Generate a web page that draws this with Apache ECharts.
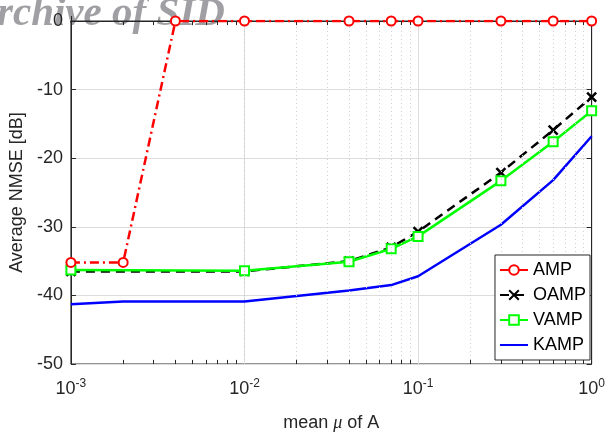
<!DOCTYPE html>
<html>
<head>
<meta charset="utf-8">
<script src="https://cdn.jsdelivr.net/npm/echarts@6/dist/echarts.min.js"></script>
<style>
  html, body { margin: 0; padding: 0; background: #fff; }
  #chart { width: 608px; height: 437px; }
</style>
</head>
<body>
<div id="chart"></div>
<script>
// x positions (mean mu of A)
const ampMu = [0.001, 0.002, 0.004, 0.01, 0.04, 0.07, 0.1, 0.3, 0.6, 1]
const ampNmse = [-35.2, -35.2, 0, 0, 0, 0, 0, 0, 0, 0]

const mu = [0.001, 0.01, 0.04, 0.07, 0.1, 0.3, 0.6, 1]
const oampNmse = [-36.5, -36.5, -35.0, -33.0, -30.7, -22.1, -15.9, -11.1]
const vampNmse = [-36.3, -36.4, -35.1, -33.2, -31.4, -23.3, -17.6, -13.1]

const kampMu = [0.001, 0.002, 0.01, 0.04, 0.07, 0.1, 0.3, 0.6, 1]
const kampNmse = [-41.3, -40.9, -40.9, -39.3, -38.5, -37.2, -29.7, -23.2, -16.8]

const decades = [0.001, 0.01, 0.1, 1]

// minor log ticks 2..9 in each decade
const minorTicks = []
decades.slice(0, 3).forEach((d) => {
  for (let k = 2; k <= 9; k++) minorTicks.push(+(d * k).toPrecision(3))
})

const zip = (xs, ys) => xs.map((x, i) => [x, ys[i]])

const chart = echarts.init(document.getElementById('chart'))

const axisColor = '#262626'
const font = 'Liberation Sans, Arial, sans-serif'

const supLabel = (v) => {
  const e = Math.round(Math.log10(v))
  return '{b|10}{s|' + e + '}'
}

chart.setOption({
  animation: false,
  backgroundColor: '#fff',
  graphic: [
    {
      type: 'text',
      left: -3,
      top: -6,
      z: -10,
      style: {
        text: 'rchive of SID',
        font: 'italic bold 41px "Liberation Serif", "DejaVu Serif", serif',
        fill: '#a0a0a4'
      }
    }
  ],
  grid: {
    left: 70, right: 11, top: 21, bottom: 73,
    show: true, borderColor: axisColor, borderWidth: 1
  },
  legend: {
    orient: 'vertical',
    right: 18,
    top: 255,
    z: 20,
    backgroundColor: '#fff',
    borderColor: axisColor,
    borderWidth: 1,
    borderRadius: 0,
    padding: [6, 4, 6, 4],
    itemWidth: 28,
    itemHeight: 12,
    itemGap: 7,
    textStyle: { fontSize: 18, color: '#000', fontFamily: font },
    data: ['AMP', 'OAMP', 'VAMP', { name: 'KAMP', itemStyle: { opacity: 0 } }]
  },
  xAxis: [
    {
      type: 'log',
      logBase: 10,
      min: 0.001,
      max: 1,
      name: 'mean {m|μ} of A',
      nameLocation: 'middle',
      nameGap: 50,
      nameTextStyle: {
        fontSize: 18, color: axisColor, fontFamily: font,
        rich: { m: { fontSize: 18, fontStyle: 'italic', fontFamily: 'Liberation Serif, serif', color: axisColor } }
      },
      axisLine: { show: true, lineStyle: { color: axisColor } },
      axisTick: { inside: true, length: 5, lineStyle: { color: axisColor } },
      axisLabel: {
        margin: 14,
        formatter: supLabel,
        rich: {
          b: { fontSize: 18, color: axisColor, fontFamily: font, lineHeight: 22 },
          s: { fontSize: 12, color: axisColor, fontFamily: font, verticalAlign: 'top', lineHeight: 22, padding: [0, 0, 10, 0] }
        }
      },
      splitLine: { show: true, lineStyle: { color: '#dcdcdc', width: 1 } }
    },
    {
      type: 'log',
      logBase: 10,
      min: 0.001,
      max: 1,
      position: 'top',
      axisLine: { show: true, lineStyle: { color: axisColor } },
      axisTick: { inside: true, length: 5, lineStyle: { color: axisColor } },
      axisLabel: { show: false },
      splitLine: { show: false }
    }
  ],
  yAxis: [
    {
      type: 'value',
      min: -50,
      max: 0,
      interval: 10,
      name: 'Average NMSE [dB]',
      nameLocation: 'middle',
      nameGap: 44,
      nameTextStyle: { fontSize: 18, color: axisColor, fontFamily: font },
      axisLine: { show: true, lineStyle: { color: axisColor } },
      axisTick: { show: true, inside: true, length: 5, lineStyle: { color: axisColor } },
      axisLabel: { fontSize: 18, color: axisColor, fontFamily: font, margin: 8 },
      splitLine: { show: true, lineStyle: { color: '#dcdcdc', width: 1 } }
    },
    {
      type: 'value',
      min: -50,
      max: 0,
      interval: 10,
      position: 'right',
      axisLine: { show: true, lineStyle: { color: axisColor } },
      axisTick: { show: true, inside: true, length: 5, lineStyle: { color: axisColor } },
      axisLabel: { show: false },
      splitLine: { show: false }
    }
  ],
  series: [
    {
      // minor grid lines and minor ticks
      type: 'line',
      data: [],
      silent: true,
      z: 1,
      markLine: {
        silent: true,
        symbol: ['none', 'none'],
        label: { show: false },
        animation: false,
        data: [
          ...minorTicks.map((x) => ({ xAxis: x, lineStyle: { type: [1, 3], color: '#cfcfcf', width: 1 } })),
          ...minorTicks.map((x) => [
            { coord: [x, -50], lineStyle: { type: 'solid', color: axisColor, width: 1 } },
            { coord: [x, -49.4] }
          ]),
          ...minorTicks.map((x) => [
            { coord: [x, 0], lineStyle: { type: 'solid', color: axisColor, width: 1 } },
            { coord: [x, -0.6] }
          ])
        ]
      }
    },
    {
      name: 'AMP',
      type: 'line',
      z: 5,
      data: zip(ampMu, ampNmse),
      symbol: 'emptyCircle',
      symbolSize: 9,
      color: '#ff0000',
      itemStyle: { color: '#ff0000', borderWidth: 2 },
      lineStyle: { color: '#ff0000', width: 2.5, type: [9, 4, 2, 4] }
    },
    {
      name: 'OAMP',
      type: 'line',
      z: 3,
      data: zip(mu, oampNmse),
      symbol: 'path://M0,0L10,10M10,0L0,10',
      symbolSize: 9,
      color: '#000',
      itemStyle: { color: '#000', borderColor: '#000', borderWidth: 2.5 },
      lineStyle: { color: '#000', width: 2.5, type: [9, 6] }
    },
    {
      name: 'VAMP',
      type: 'line',
      z: 4,
      data: zip(mu, vampNmse),
      symbol: 'emptyRect',
      symbolSize: 9,
      color: '#00ff00',
      itemStyle: { color: '#00ff00', borderWidth: 2 },
      lineStyle: { color: '#00ff00', width: 2.5 }
    },
    {
      name: 'KAMP',
      type: 'line',
      z: 2,
      data: zip(kampMu, kampNmse),
      symbol: 'none',
      color: '#0000ff',
      lineStyle: { color: '#0000ff', width: 2.5 }
    }
  ]
})
</script>
</body>
</html>
